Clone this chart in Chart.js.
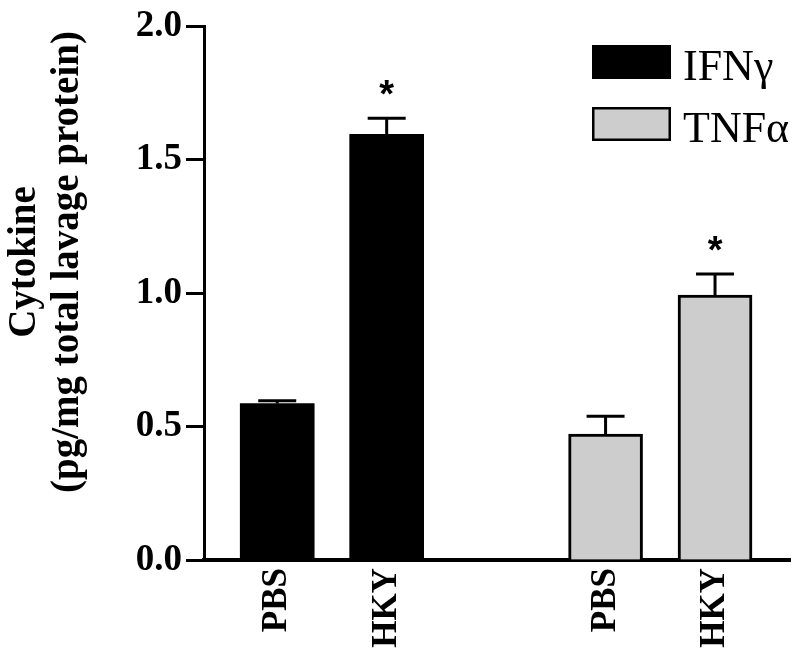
<!DOCTYPE html>
<html><head><meta charset="utf-8">
<script src="https://cdn.jsdelivr.net/npm/chart.js@4/dist/chart.umd.min.js"></script>
<style>html,body{margin:0;padding:0;background:#fff}canvas{display:block}</style>
</head><body>
<canvas id="c" width="800" height="663"></canvas>
<script>
// ---- data ----
const categories = ['PBS', 'HKY', 'PBS', 'HKY'];
const slotPositions = [0, 1, 3, 4];          // category slots (empty slot 2 separates the groups)
const seriesNames = ['IFNγ', 'TNFα'];
const ifnValues = [0.586, 1.595];
const ifnErrors = [0.011, 0.060];
const tnfValues = [0.472, 0.993];
const tnfErrors = [0.067, 0.079];
const ifnMarks = ['', '*'];
const tnfMarks = ['', '*'];
const yTicks = [0.0, 0.5, 1.0, 1.5, 2.0];
const yTitleLines = ['Cytokine', '(pg/mg total lavage protein)'];

const SERIF = '"Liberation Serif", "Times New Roman", Times, serif';
const SANS = '"Liberation Sans", Arial, Helvetica, sans-serif';

const ifnData = ifnValues.map((v, i) => ({ x: slotPositions[i], y: v }));
const tnfData = tnfValues.map((v, i) => ({ x: slotPositions[i + 2], y: v }));

const errorPlugin = {
  id: 'errorBars',
  afterDatasetsDraw(chart) {
    const ctx = chart.ctx;
    const ys = chart.scales.y;
    chart.data.datasets.forEach((ds, di) => {
      const meta = chart.getDatasetMeta(di);
      meta.data.forEach((el, i) => {
        const v = ds.data[i].y;
        const e = ds.errors[i];
        const top = ys.getPixelForValue(v + e);
        ctx.save();
        ctx.strokeStyle = '#000';
        ctx.lineWidth = 3;
        ctx.beginPath();
        ctx.moveTo(el.x, el.y);
        ctx.lineTo(el.x, top);
        ctx.moveTo(el.x - 19, top);
        ctx.lineTo(el.x + 19, top);
        ctx.stroke();
        const m = ds.marks[i];
        if (m) {
          ctx.fillStyle = '#000';
          ctx.font = 'bold 38px ' + SANS;
          ctx.textAlign = 'center';
          ctx.textBaseline = 'alphabetic';
          ctx.fillText(m, el.x, top - 11);
        }
        ctx.restore();
      });
    });
  }
};

const legendPlugin = {
  id: 'boxLegend',
  afterDraw(chart) {
    const ctx = chart.ctx;
    chart.data.datasets.forEach((ds, i) => {
      const by = 45 + i * 62;
      ctx.save();
      ctx.fillStyle = ds.backgroundColor;
      ctx.fillRect(592, by, 79, 34);
      ctx.strokeStyle = '#000';
      ctx.lineWidth = 2.5;
      ctx.strokeRect(593.25, by + 1.25, 76.5, 31.5);
      ctx.fillStyle = '#000';
      ctx.font = '44px ' + SERIF;
      ctx.textAlign = 'left';
      ctx.textBaseline = 'alphabetic';
      ctx.fillText(ds.label, 683, by + 35);
      ctx.restore();
    });
  }
};

const yTitlePlugin = {
  id: 'yTitle',
  afterDraw(chart) {
    const ctx = chart.ctx;
    const xs = [35, 78];
    ctx.save();
    ctx.fillStyle = '#000';
    ctx.font = 'bold 39px ' + SERIF;
    ctx.textAlign = 'center';
    ctx.textBaseline = 'alphabetic';
    yTitleLines.forEach((t, i) => {
      ctx.save();
      ctx.translate(xs[i], 262);
      ctx.rotate(-Math.PI / 2);
      ctx.fillText(t, 0, 0);
      ctx.restore();
    });
    ctx.restore();
  }
};

new Chart(document.getElementById('c'), {
  type: 'bar',
  data: {
    datasets: [
      { label: seriesNames[0], data: ifnData, errors: ifnErrors, marks: ifnMarks,
        backgroundColor: '#000000', borderColor: '#000000', borderWidth: 0,
        grouped: false, barThickness: 74 },
      { label: seriesNames[1], data: tnfData, errors: tnfErrors, marks: tnfMarks,
        backgroundColor: '#cdcdcd', borderColor: '#000000', borderWidth: 3,
        grouped: false, barThickness: 74 }
    ]
  },
  options: {
    responsive: false,
    animation: false,
    devicePixelRatio: 1,
    layout: { padding: { left: 0, top: 23, right: 10, bottom: 0 } },
    plugins: { legend: { display: false }, tooltip: { enabled: false } },
    scales: {
      x: {
        type: 'linear', min: -0.669, max: 4.685, offset: false,
        afterBuildTicks: s => { s.ticks = slotPositions.map(v => ({ value: v })); },
        ticks: {
          color: '#000', autoSkip: false, minRotation: 90, maxRotation: 90, padding: 8,
          font: { family: SERIF, size: 35, weight: 'bold' },
          callback: v => categories[slotPositions.indexOf(v)]
        },
        grid: { drawOnChartArea: false, drawTicks: false, offset: false },
        border: { display: true, color: '#000', width: 4 },
        afterFit: s => { s.height = 103; }
      },
      y: {
        min: 0, max: 2,
        afterBuildTicks: s => { s.ticks = yTicks.map(v => ({ value: v })); },
        ticks: {
          color: '#000', padding: 4,
          font: { family: SERIF, size: 37, weight: 'bold' },
          callback: v => Number(v).toFixed(1)
        },
        grid: { drawOnChartArea: false, drawTicks: true, tickLength: 18, tickWidth: 3, tickColor: '#000' },
        border: { display: true, color: '#000', width: 3 },
        afterFit: s => { s.width = 204; }
      }
    }
  },
  plugins: [errorPlugin, legendPlugin, yTitlePlugin]
});
</script>
</body></html>
